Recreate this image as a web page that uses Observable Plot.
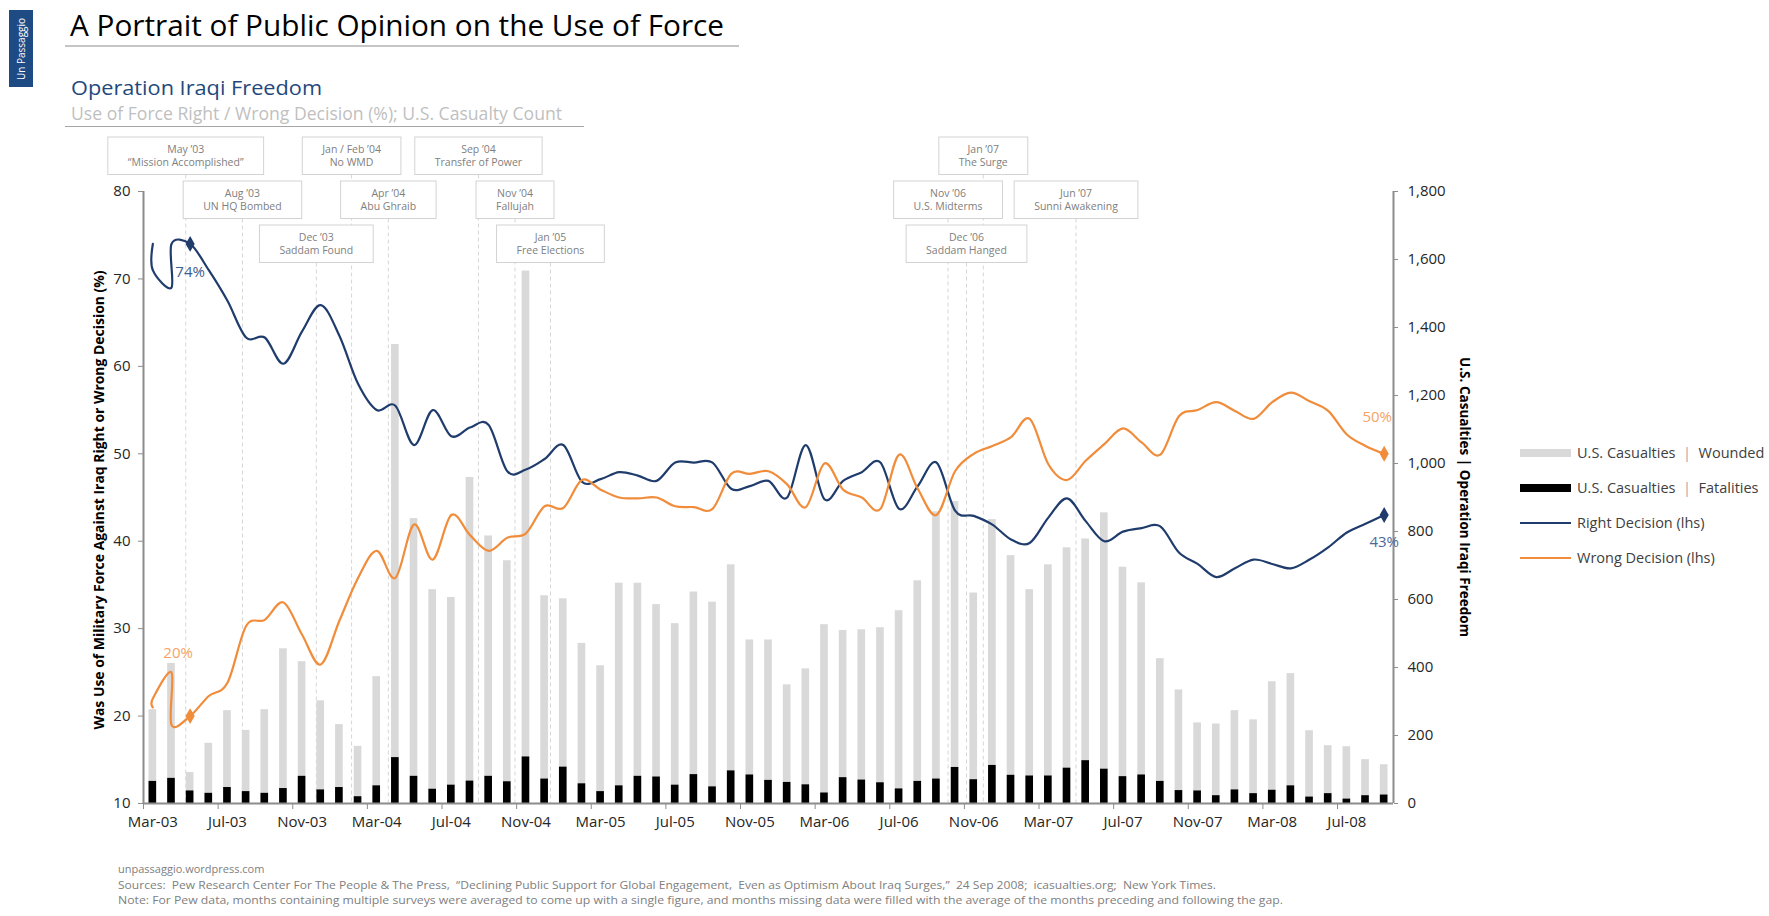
<!DOCTYPE html>
<html>
<head>
<meta charset="utf-8">
<script src="https://cdn.jsdelivr.net/npm/d3@7"></script>
<script src="https://cdn.jsdelivr.net/npm/@observablehq/plot@0.6"></script>
<style>
  html, body { margin: 0; padding: 0; background: #fff; }
  #chart { position: relative; width: 1769px; height: 916px; overflow: hidden; }
</style>
</head>
<body>
<div id="chart"></div>
<script>
// ---- Monthly U.S. casualties, Mar-03 (index 0) through Sep-08 (index 66) ----
const fatalities = [
  65, 74, 37, 30, 47, 35, 30, 44, 80, 40,
  47, 20, 52, 135, 80, 42, 54, 66, 80, 64, 137, 72,
  107, 58, 35, 52, 80, 78, 54, 85, 49, 96, 84, 68,
  62, 55, 31, 76, 69, 61, 43, 65, 72, 106, 70, 112,
  83, 81, 81, 104, 126, 101, 79, 84, 65, 38, 37, 23,
  40, 29, 39, 52, 19, 29, 13, 23, 25
];
const wounded = [
  211, 338, 54, 147, 226, 180, 246, 411, 337, 262,
  185, 148, 321, 1215, 758, 587, 552, 893, 707, 650, 1429, 539,
  495, 413, 370, 596, 568, 507, 475, 537, 543, 606, 397, 413,
  287, 341, 495, 433, 442, 456, 524, 590, 786, 782, 549, 723,
  646, 548, 621, 648, 652, 754, 616, 565, 361, 296, 200, 211,
  233, 217, 319, 330, 195, 141, 154, 106, 89
];

// ---- Pew survey: was the use of force the right or wrong decision (%) ----
// month index of each reading (early 2003 had several surveys per month)
const pollMonth = [0, 0, 1, 1].concat(d3.range(2, 67));
const rightDecision = [
  74, 71, 69, 74, 74,
  71, 67.5, 63.3, 63.3, 60.3, 64, 67, 63.5, 58, 55, 55.5, 51, 55, 52, 53, 53.3,
  48, 48.2, 49.4, 51, 46.8, 47.1, 47.9, 47.5, 46.9, 49, 49, 49, 46, 46.3, 46.9,
  45, 51, 44.8, 46.9, 47.9, 49, 43.7, 46.3, 49, 43.5, 42.9, 41.9,
  40.2, 39.8, 42.7, 44.9, 42.3, 40, 41.1, 41.5, 41.7, 38.7, 37.4, 35.9,
  36.9, 37.9, 37.4, 36.9, 37.9, 39.3, 41, 42, 43
];
const wrongDecision = [
  21, 22, 25, 19, 20,
  22.3, 23.8, 30.3, 31, 33, 29.3, 25.9, 30.9, 35.8, 38.9, 35.8, 41.9, 37.9, 43, 40.7, 38.9,
  40.4, 40.9, 44, 43.8, 47, 45.9, 45, 44.9, 45, 44, 43.9, 43.7, 47.7, 47.7, 48,
  46.5, 43.9, 48.9, 45.9, 45, 43.7, 49.9, 46, 43, 48, 50, 50.9,
  51.9, 54, 48.8, 47, 49.2, 51.1, 52.9, 51.3, 49.9, 54.3, 55, 55.9,
  54.9, 54, 55.9, 57, 56, 54.9, 52.2, 50.9, 50
];

// ---- Axis ticks ----
const xTickLabels = ["Mar-03", "Jul-03", "Nov-03", "Mar-04", "Jul-04", "Nov-04", "Mar-05", "Jul-05",
  "Nov-05", "Mar-06", "Jul-06", "Nov-06", "Mar-07", "Jul-07", "Nov-07", "Mar-08", "Jul-08"];
const leftTicks = [10, 20, 30, 40, 50, 60, 70, 80];
const rightTicks = [0, 200, 400, 600, 800, 1000, 1200, 1400, 1600, 1800];

// ---- Key events (position along the month axis) ----
const eventWhen = ["May \u201903", "Aug \u201903", "Dec \u201903", "Jan / Feb \u201904", "Apr \u201904", "Sep \u201904",
  "Nov \u201904", "Jan \u201905", "Nov \u201906", "Dec \u201906", "Jan \u201907", "Jun \u201907"];
const eventWhat = ["\u201cMission Accomplished\u201d", "UN HQ Bombed", "Saddam Found", "No WMD", "Abu Ghraib",
  "Transfer of Power", "Fallujah", "Free Elections", "U.S. Midterms", "Saddam Hanged", "The Surge", "Sunni Awakening"];
const eventPos = [2.29, 5.33, 9.29, 11.18, 13.15, 17.98, 19.94, 21.84, 43.15, 44.14, 45.04, 50.01];

// ---- Layout & style ----
const W = 1769, H = 916;
const navy = "#1f3c6c", orange = "#f08c3a";
const eventRow = [0, 1, 2, 0, 1, 0, 1, 2, 1, 2, 0, 1];
const rowTop = [137, 181, 225], boxH = 37.5;
const FONT = "'Open Sans', 'Noto Sans', sans-serif";

// casualty counts share the chart's vertical extent with the percentage axis
const toPct = d3.scaleLinear([0, 1800], [10, 80]);

const months = fatalities.map((f, i) => ({i, fatal: f, wounded: wounded[i]}));
const polls = pollMonth.map((m, k) => ({m, right: rightDecision[k], wrong: wrongDecision[k]}));
const first = polls.find(d => d.m === 2);
const last = polls[polls.length - 1];

const plot = Plot.plot({
  width: W,
  height: H,
  marginLeft: 143,
  marginRight: 376,
  marginTop: 191,
  marginBottom: 113,
  x: {type: "linear", domain: [0, months.length]},
  y: {type: "linear", domain: [10, 80]},
  style: {fontFamily: FONT, fontSize: "15px", color: "#262626", background: "transparent", overflow: "visible"},
  marks: [
    // casualties: wounded stacked on fatalities
    Plot.rect(months, {x1: "i", x2: d => d.i + 1, y1: d => toPct(d.fatal), y2: d => toPct(d.fatal + d.wounded),
      fill: "#d9d9d9", insetLeft: 5.5, insetRight: 5.5}),
    Plot.rect(months, {x1: "i", x2: d => d.i + 1, y1: () => toPct(0), y2: d => toPct(d.fatal),
      fill: "#000", insetLeft: 5.5, insetRight: 5.5}),

    // frame lines
    Plot.ruleX([0, months.length], {stroke: "#8c8c8c", strokeWidth: 2}),
    Plot.ruleY([10], {stroke: "#8c8c8c", strokeWidth: 2}),

    // axes
    Plot.axisY(leftTicks, {anchor: "left", tickSize: 5, tickPadding: 8, stroke: "#8c8c8c", fill: "#262626", label: null}),
    Plot.axisY(rightTicks.map(v => toPct(v)), {anchor: "right", tickSize: 4, tickPadding: 10, stroke: "#8c8c8c", fill: "#262626",
      tickFormat: d => d3.format(",")(Math.round(toPct.invert(d))), label: null}),
    Plot.axisX(xTickLabels.map((_, k) => 4 * k), {tickSize: 6, stroke: "#8c8c8c", tickFormat: () => "", label: null}),
    Plot.axisX(xTickLabels.map((_, k) => 4 * k + 0.5), {tickSize: 0, tickPadding: 13, fill: "#262626",
      tickFormat: d => xTickLabels[Math.round((d - 0.5) / 4)], label: null}),

    // opinion lines
    Plot.line(polls, {x: d => d.m + 0.5, y: "right", stroke: navy, strokeWidth: 2.2, curve: "cardinal"}),
    Plot.line(polls, {x: d => d.m + 0.5, y: "wrong", stroke: orange, strokeWidth: 2.2, curve: "cardinal"}),

    // end markers and their values
    Plot.dot([first, last], {x: d => d.m + 0.5, y: "right", symbol: "diamond", r: 4.8, fill: navy}),
    Plot.dot([first, last], {x: d => d.m + 0.5, y: "wrong", symbol: "diamond", r: 4.8, fill: orange}),
    Plot.text([first], {x: d => d.m + 0.5, y: "right", text: d => `${d.right}%`, dy: 28, fill: "#3d5e90", fontSize: 15}),
    Plot.text([last], {x: d => d.m + 0.5, y: "right", text: d => `${d.right}%`, dy: 27, fill: "#4b6a9b", fontSize: 15}),
    Plot.text([first], {x: d => d.m + 0.5, y: "wrong", text: d => `${d.wrong}%`, dx: -12, dy: -63, fill: "#f4a465", fontSize: 15}),
    Plot.text([last], {x: d => d.m + 0.5, y: "wrong", text: d => `${d.wrong}%`, dx: -7, dy: -37, fill: "#f4a465", fontSize: 15})
  ]
});

document.getElementById("chart").appendChild(plot);

const svg = d3.select(plot);
const xs = plot.scale("x"), ys = plot.scale("y");
const yBase = ys.apply(10);

// ---- event guides (behind the data) and labelled boxes ----
const guides = svg.insert("g", ":first-child");
eventPos.forEach((p, k) => {
  const cx = xs.apply(p);
  guides.append("line")
    .attr("x1", cx).attr("x2", cx)
    .attr("y1", rowTop[eventRow[k]] + boxH).attr("y2", yBase)
    .attr("stroke", "#d6d6d6").attr("stroke-width", 1).attr("stroke-dasharray", "4,3");
});

const boxes = svg.append("g").attr("font-family", FONT).attr("font-size", 10.5).attr("fill", "#808080")
  .attr("text-anchor", "middle");
eventPos.forEach((p, k) => {
  const cx = xs.apply(p), top = rowTop[eventRow[k]];
  const g = boxes.append("g");
  const rect = g.append("rect");
  const t1 = g.append("text").attr("x", cx).attr("y", top + 16).text(eventWhen[k]);
  const t2 = g.append("text").attr("x", cx).attr("y", top + 28.8).text(eventWhat[k]);
  const w = Math.max(t1.node().getComputedTextLength(), t2.node().getComputedTextLength()) + 40;
  rect.attr("x", cx - w / 2).attr("y", top).attr("width", w).attr("height", boxH)
    .attr("fill", "#fff").attr("stroke", "#d3d3d3").attr("stroke-width", 1);
});

// ---- headings ----
const head = svg.append("g").attr("font-family", FONT).attr("text-anchor", "start");
head.append("rect").attr("x", 9).attr("y", 10).attr("width", 24).attr("height", 77).attr("fill", "#1f4b85");
head.append("text").attr("transform", "translate(21.5,49) rotate(-90)").attr("text-anchor", "middle")
  .attr("dy", "0.35em").attr("font-size", 10).attr("fill", "#fff").text("Un Passaggio");

head.append("text").attr("x", 70).attr("y", 36).attr("font-size", 29).attr("fill", "#000")
  .attr("textLength", 654).attr("lengthAdjust", "spacingAndGlyphs")
  .text("A Portrait of Public Opinion on the Use of Force");
head.append("line").attr("x1", 65).attr("x2", 739).attr("y1", 46).attr("y2", 46)
  .attr("stroke", "#8c8c8c").attr("stroke-width", 1.2);

head.append("text").attr("x", 71).attr("y", 95).attr("font-size", 20).attr("fill", "#1f497d")
  .attr("textLength", 251).attr("lengthAdjust", "spacingAndGlyphs").text("Operation Iraqi Freedom");
head.append("text").attr("x", 71).attr("y", 119.5).attr("font-size", 18).attr("fill", "#bfbfbf")
  .attr("textLength", 491).attr("lengthAdjust", "spacingAndGlyphs")
  .text("Use of Force Right / Wrong Decision (%); U.S. Casualty Count");
head.append("line").attr("x1", 65).attr("x2", 584).attr("y1", 126.5).attr("y2", 126.5)
  .attr("stroke", "#a6a6a6").attr("stroke-width", 1);

// ---- axis titles ----
svg.append("text").attr("transform", "translate(99,500) rotate(-90)").attr("text-anchor", "middle")
  .attr("dy", "0.35em").attr("font-family", FONT).attr("font-size", 14).attr("font-weight", "bold").attr("fill", "#000")
  .attr("textLength", 459).attr("lengthAdjust", "spacingAndGlyphs")
  .text("Was Use of Military Force Against Iraq Right or Wrong Decision (%)");
svg.append("text").attr("transform", "translate(1465,497) rotate(90)").attr("text-anchor", "middle")
  .attr("dy", "0.35em").attr("font-family", FONT).attr("font-size", 14.5).attr("font-weight", "bold").attr("fill", "#000")
  .attr("textLength", 280).attr("lengthAdjust", "spacingAndGlyphs")
  .text("U.S. Casualties | Operation Iraqi Freedom");

// ---- legend ----
const legend = svg.append("g").attr("font-family", FONT).attr("font-size", 14.5).attr("fill", "#404040")
  .attr("text-anchor", "start");
const entries = [
  {kind: "bar", color: "#d9d9d9", a: "U.S. Casualties", b: "Wounded"},
  {kind: "bar", color: "#000", a: "U.S. Casualties", b: "Fatalities"},
  {kind: "line", color: navy, a: "Right Decision (lhs)"},
  {kind: "line", color: orange, a: "Wrong Decision (lhs)"}
];
entries.forEach((e, k) => {
  const cy = 453 + k * 35;
  if (e.kind === "bar") {
    legend.append("rect").attr("x", 1520).attr("y", cy - 4).attr("width", 51).attr("height", 8).attr("fill", e.color);
  } else {
    legend.append("line").attr("x1", 1520).attr("x2", 1571).attr("y1", cy).attr("y2", cy)
      .attr("stroke", e.color).attr("stroke-width", 2);
  }
  const t = legend.append("text").attr("x", 1577).attr("y", cy).attr("dy", "0.35em");
  t.append("tspan").text(e.a);
  if (e.b) {
    t.append("tspan").attr("fill", "#a6a6a6").attr("xml:space", "preserve").text("  |  ");
    t.append("tspan").text(e.b);
  }
});

// ---- footer ----
const foot = svg.append("g").attr("font-family", FONT).attr("font-size", 11).attr("fill", "#808080")
  .attr("text-anchor", "start");
foot.append("text").attr("x", 118).attr("y", 873).text("unpassaggio.wordpress.com");
foot.append("text").attr("x", 118).attr("y", 888.5)
  .attr("textLength", 1098).attr("lengthAdjust", "spacingAndGlyphs")
  .text("Sources:  Pew Research Center For The People & The Press,  \u201cDeclining Public Support for Global Engagement,  Even as Optimism About Iraq Surges,\u201d  24 Sep 2008;  icasualties.org;  New York Times.");
foot.append("text").attr("x", 118).attr("y", 904)
  .attr("textLength", 1165).attr("lengthAdjust", "spacingAndGlyphs")
  .text("Note: For Pew data, months containing multiple surveys were averaged to come up with a single figure, and months missing data were filled with the average of the months preceding and following the gap.");
</script>
</body>
</html>
